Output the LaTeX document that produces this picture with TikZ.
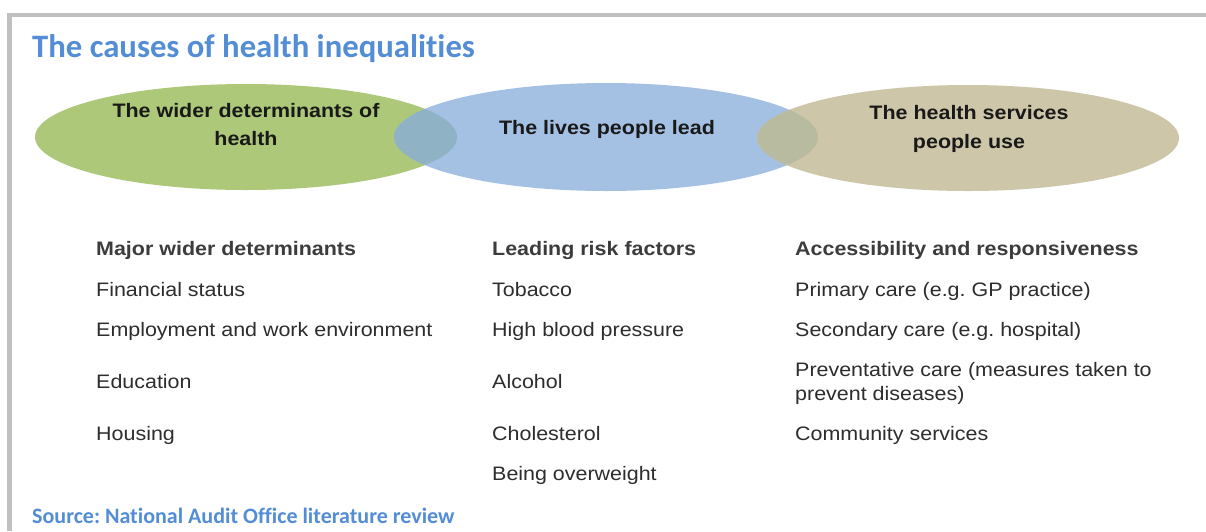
\documentclass[tikz,border=0pt]{standalone}
\usepackage{fontspec}
\newfontfamily\bodyfont[FakeStretch=1.1]{Liberation Sans}
\newfontfamily\calfont[Ligatures=NoCommon]{Carlito}
\frenchspacing
\definecolor{frame}{RGB}{192,192,192}
\definecolor{titleblue}{RGB}{83,141,213}
\definecolor{egreen}{RGB}{174,200,122}
\definecolor{eblue}{RGB}{164,193,228}
\definecolor{etan}{RGB}{206,198,168}
\definecolor{ovgb}{RGB}{143,178,196}
\definecolor{ovbt}{RGB}{185,187,160}
\definecolor{bodytext}{RGB}{45,45,45}
\definecolor{headtext}{RGB}{60,60,60}
\tikzset{
  titletext/.style={anchor=base west, inner sep=0pt, text=titleblue, font=\calfont\bfseries\fontsize{32.7}{38}\selectfont},
  sourcetext/.style={anchor=base west, inner sep=0pt, text=titleblue, font=\calfont\bfseries\fontsize{22}{26}\selectfont},
  elabel/.style={anchor=base, inner sep=0pt, text=black!90, font=\bodyfont\bfseries\fontsize{19.5}{28}\selectfont},
  colhead/.style={anchor=base west, inner sep=0pt, text=headtext, font=\bodyfont\bfseries\fontsize{19.5}{24}\selectfont},
  item/.style={anchor=base west, inner sep=0pt, text=bodytext, font=\bodyfont\fontsize{19.5}{24}\selectfont, align=left},
}
\begin{document}
\begin{tikzpicture}[x=1pt,y=-1pt]
\useasboundingbox (0,0) rectangle (1206,531);
\fill[white] (0,0) rectangle (1206,531);
% frame
\fill[frame] (7,13) rectangle (1206,17);
\fill[frame] (7,13) rectangle (12,531);
% title
\node[titletext] (title) at (32,57) {The causes of health inequalities};
% ellipses
\fill[egreen] (246,137) ellipse (211 and 53);
\fill[eblue] (606,137) ellipse (212 and 54);
\fill[etan] (968,138) ellipse (211 and 53);
\begin{scope}
  \clip (246,137) ellipse (211 and 53);
  \fill[ovgb] (606,137) ellipse (212 and 54);
\end{scope}
\begin{scope}
  \clip (968,138) ellipse (211 and 53);
  \fill[ovbt] (606,137) ellipse (212 and 54);
\end{scope}
% ellipse labels
\node[elabel] (g1) at (246,117) {The wider determinants of};
\node[elabel] (g2) at (246,145) {health};
\node[elabel] (b1) at (607,134) {The lives people lead};
\node[elabel] (t1) at (969,119) {The health services};
\node[elabel] (t2) at (969,148) {people use};
% column 1
\node[colhead] (h1) at (96,255) {Major wider determinants};
\node[item] (a1) at (96,296) {Financial status};
\node[item] (a2) at (96,336) {Employment and work environment};
\node[item] (a3) at (96,388) {Education};
\node[item] (a4) at (96,440) {Housing};
% column 2
\node[colhead] (h2) at (492,255) {Leading risk factors};
\node[item] (b2) at (492,296) {Tobacco};
\node[item] (b3) at (492,336) {High blood pressure};
\node[item] (b4) at (492,388) {Alcohol};
\node[item] (b5) at (492,440) {Cholesterol};
\node[item] (b6) at (492,480) {Being overweight};
% column 3
\node[colhead] (h3) at (795,255) {Accessibility and responsiveness};
\node[item] (c1) at (795,296) {Primary care (e.g. GP practice)};
\node[item] (c2) at (795,336) {Secondary care (e.g. hospital)};
\node[item] (c3) at (795,376) {Preventative care (measures taken to};
\node[item] (c3b) at (795,400) {prevent diseases)};
\node[item] (c4) at (795,440) {Community services};
% source
\node[sourcetext] (src) at (32,523) {Source: National Audit Office literature review};
\end{tikzpicture}
\end{document}
